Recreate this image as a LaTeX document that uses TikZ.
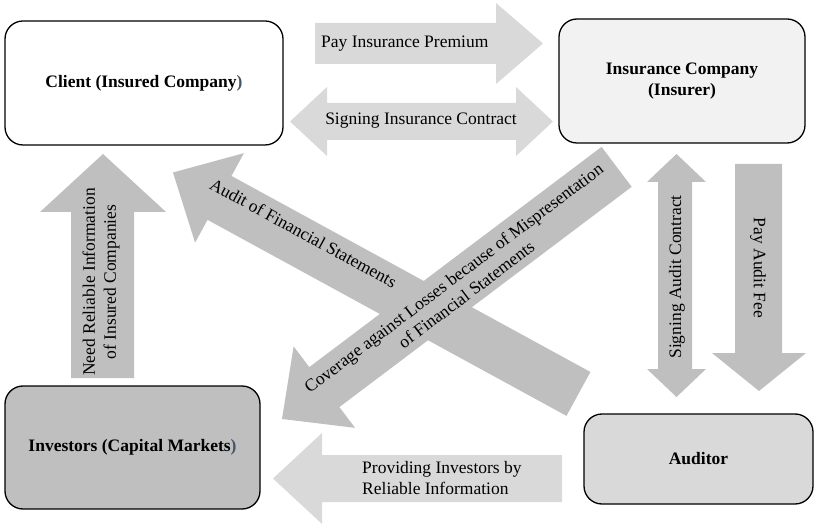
\documentclass[tikz,border=0pt]{standalone}
\usepackage{fontspec}
\setmainfont{Liberation Serif}
\definecolor{lightgr}{HTML}{D9D9D9}
\definecolor{midgr}{HTML}{BFBFBF}
\definecolor{paleg}{HTML}{F2F2F2}
\definecolor{parblue}{HTML}{44546A}
\tikzset{
    party/.style={draw, line width=1.3pt, rounded corners=18pt, align=center,
        font=\fontsize{17.5}{21}\selectfont\bfseries, inner sep=0pt},
    lab/.style={font=\fontsize{17.5}{21}\selectfont, inner sep=0pt, align=center},
    lightar/.style={fill=lightgr},
    darkar/.style={fill=midgr},
}

\begin{document}
\begin{tikzpicture}[x=1pt, y=-1pt]
    \useasboundingbox (0,0) rectangle (816,526);

    % the four parties
    \node[party, fill=white, minimum width=278pt, minimum height=124pt] (client) at (144,83)
        {Client (Insured Company{\color{parblue})}};
    \node[party, fill=paleg, minimum width=246pt, minimum height=124pt] (insurer) at (682,81)
        {Insurance Company\\(Insurer)};
    \node[party, fill=midgr, minimum width=255pt, minimum height=123pt] (investors) at (132.5,447.5)
        {Investors (Capital Markets{\color{parblue})}};
    \node[party, fill=lightgr, minimum width=229pt, minimum height=90pt] (auditor) at (698.5,459)
        {Auditor};

    % horizontal arrows
    \fill[lightar] (315,23) -- (496,23) -- (496,3) -- (543,43.5) -- (496,84) -- (496,64) -- (315,64) -- cycle;
    \node[lab, anchor=west] (premium) at (321,44) {Pay Insurance Premium};

    \fill[lightar] (290,121.5) -- (327,87) -- (327,103) -- (516,103) -- (516,87) -- (553,121.5)
        -- (516,156) -- (516,140) -- (327,140) -- (327,156) -- cycle;
    \node[lab] (contract) at (421,121) {Signing Insurance Contract};

    \fill[lightar] (273,478.5) -- (322,433) -- (322,455) -- (562,455) -- (562,502) -- (322,502) -- (322,524) -- cycle;
    \node[lab, align=left, anchor=west] (providing) at (362,478) {Providing Investors by\\Reliable Information};

    % vertical arrows
    \fill[darkar] (103,154) -- (166,212) -- (134,212) -- (134,378) -- (71,378) -- (71,212) -- (40,212) -- cycle;
    \node[lab, rotate=90] (need) at (101,282) {Need Reliable Information\\of Insured Companies};

    \fill[darkar] (676.5,154) -- (706,182) -- (692,182) -- (692,369) -- (706,369) -- (676.5,397)
        -- (647,369) -- (658,369) -- (658,182) -- (647,182) -- cycle;
    \node[lab, rotate=90] (auditcontract) at (677,277) {Signing Audit Contract};

    \fill[darkar] (735,164) -- (782,164) -- (782,353) -- (806,353) -- (759,391) -- (712,353) -- (735,353) -- cycle;
    \node[lab, rotate=-90] (fee) at (758,268) {Pay Audit Fee};

    % crossing arrows
    \begin{scope}[shift={(282,419)}, rotate=37]
        \fill[darkar] (0,0) -- (53,51) -- (53,25) -- (419,25) -- (419,-25) -- (53,-25) -- (53,-51) -- cycle;
        \coordinate (covmid) at (222,1);
    \end{scope}
    \begin{scope}[shift={(173,172.5)}, rotate=-28.64]
        \fill[darkar] (0,0) -- (53,51) -- (53,25) -- (462,25) -- (462,-25) -- (53,-25) -- (53,-51) -- cycle;
        \coordinate (auditmid) at (143.5,-9.5);
    \end{scope}
    \node[lab, rotate=-28.64] (audit) at (auditmid) {Audit of Financial Statements};
    \node[lab, rotate=37] (coverage) at (covmid)
        {Coverage against Losses because of Mispresentation\\of Financial Statements};
\end{tikzpicture}
\end{document}
